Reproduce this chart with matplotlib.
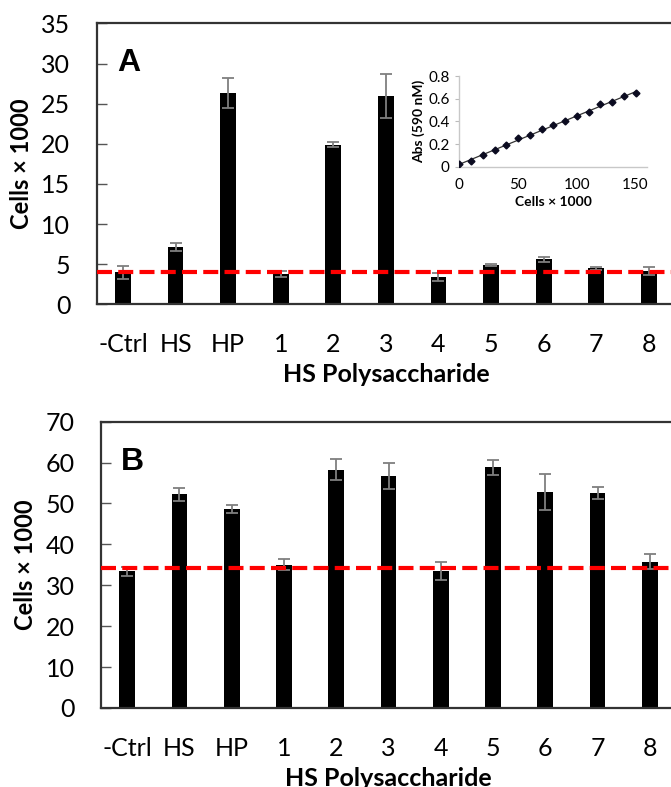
import numpy as np
import matplotlib
matplotlib.use("Agg")
import matplotlib.pyplot as plt

plt.rcParams['font.family'] = ['Lato', 'DejaVu Sans']

# categories on both panels
groups = ['-Ctrl', 'HS', 'HP', '1', '2', '3', '4', '5', '6', '7', '8']

# panel A
a_mean = [4.0, 7.2, 26.3, 3.75, 19.9, 25.95, 3.45, 4.9, 5.6, 4.5, 4.15]
a_err = [0.8, 0.5, 1.9, 0.35, 0.35, 2.7, 0.5, 0.1, 0.3, 0.17, 0.45]
a_ctrl = 4.05

# panel B
b_mean = [33.4, 52.2, 48.6, 35.0, 58.3, 56.7, 33.6, 58.8, 52.8, 52.5, 35.8]
b_err = [1.1, 1.5, 1.0, 1.35, 2.6, 3.2, 2.2, 1.8, 4.5, 1.5, 1.85]
b_ctrl = 34.2

# inset standard curve
std_cells = [0, 10, 20, 30, 40, 50, 60, 70, 80, 90, 100, 110, 120, 130, 140, 150]
std_abs = [0.02, 0.05, 0.10, 0.15, 0.19, 0.25, 0.28, 0.33, 0.37, 0.40,
           0.45, 0.48, 0.55, 0.57, 0.62, 0.65]


def bar_panel(ax, means, errs, ctrl, ymax, ystep, letter):
    x = np.arange(len(groups))
    ax.bar(x, means, width=0.3, color='black', zorder=2)
    ax.errorbar(x, means, yerr=errs, fmt='none', ecolor='#7f7f7f',
                elinewidth=1.3, capsize=4, capthick=1.3, zorder=3)
    ax.axhline(ctrl, color='#ff0000', lw=3, dashes=(3.6, 1.5), zorder=4)
    ax.set_xlim(-0.5, len(groups) - 0.5)
    ax.set_ylim(0, ymax)
    ax.set_yticks(np.arange(0, ymax + 1, ystep))
    ax.set_xticks(x)
    ax.set_xticklabels(groups)
    ax.tick_params(axis='y', direction='in', length=7, width=1, color='#555555',
                   labelsize=18, pad=19)
    ax.tick_params(axis='x', length=0, labelsize=18, pad=21)
    for s in ['top', 'left', 'bottom']:
        ax.spines[s].set_color('#333333')
        ax.spines[s].set_linewidth(1.6)
    ax.spines['right'].set_visible(False)
    ax.set_xlabel('HS Polysaccharide', fontsize=18, fontweight='bold', labelpad=5)
    ax.set_ylabel('Cells × 1000', fontsize=17, fontweight='bold', labelpad=6)
    ax.text(0.055, 0.86, letter, transform=ax.transAxes, fontsize=23,
            fontweight='bold', family=['Liberation Sans', 'DejaVu Sans'],
            ha='center', va='center')


fig = plt.figure(figsize=(6.71, 7.87), dpi=100)

axA = fig.add_axes([0.1441, 0.6133, 0.862, 0.357])
bar_panel(axA, a_mean, a_err, a_ctrl, 35, 5, 'A')

axB = fig.add_axes([0.1505, 0.1004, 0.857, 0.3638])
bar_panel(axB, b_mean, b_err, b_ctrl, 70, 10, 'B')

# inset
ins = fig.add_axes([0.6845, 0.7882, 0.2802, 0.1152])
ins.plot(std_cells, std_abs, 'D', color='#0b0b20', ms=3.5, zorder=3)
k, b0 = np.polyfit(std_cells, std_abs, 1)
fit_x = np.array([std_cells[0], std_cells[-1]])
ins.plot(fit_x, k * fit_x + b0, color='#333333', lw=0.9, zorder=2)
ins.set_xlim(0, 160)
ins.set_ylim(0, 0.8)
ins.set_xticks([0, 50, 100, 150])
ins.set_yticks([0, 0.2, 0.4, 0.6, 0.8])
ins.set_yticklabels(['0', '0.2', '0.4', '0.6', '0.8'])
ins.tick_params(labelsize=11, length=3, color='#bbbbbb', pad=4)
ins.tick_params(axis='x', length=0, pad=8)
for s in ['top', 'right']:
    ins.spines[s].set_visible(False)
for s in ['left', 'bottom']:
    ins.spines[s].set_color('#c8c8c8')
    ins.spines[s].set_linewidth(1)
ins.patch.set_alpha(0)
ins.set_xlabel('Cells × 1000', fontsize=10, fontweight='bold', labelpad=3)
ins.set_ylabel('Abs (590 nM)', fontsize=10, fontweight='bold', labelpad=2)

fig.savefig('out.png', dpi=100)
